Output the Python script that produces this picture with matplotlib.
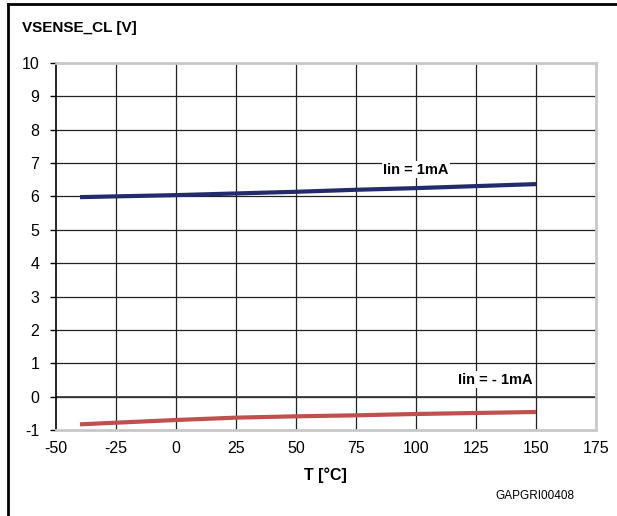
import numpy as np
import matplotlib.pyplot as plt
from matplotlib.lines import Line2D

plt.rcParams['font.family'] = ['Liberation Sans', 'DejaVu Sans']
plt.rcParams['axes.unicode_minus'] = False

# datos
temp = [-40, 0, 25, 50, 75, 100, 125, 150]
v_pos = [5.98, 6.04, 6.09, 6.14, 6.2, 6.25, 6.31, 6.37]
v_neg = [-0.83, -0.7, -0.63, -0.59, -0.56, -0.52, -0.49, -0.46]
xticks = [-50, -25, 0, 25, 50, 75, 100, 125, 150, 175]
yticks = list(range(-1, 11))

fig = plt.figure(figsize=(6.17, 5.16), dpi=100)
ax = fig.add_axes([56/617, 1-430/516, 540/617, 367/516])

ax.set_xlim(-50, 175)
ax.set_ylim(-1, 10)
ax.set_xticks(xticks)
ax.set_yticks(yticks)
ax.tick_params(axis='x', length=0, labelsize=11.5, pad=8)
ax.tick_params(axis='y', length=4, width=1, labelsize=11.5, pad=8)

# rejilla
for x in xticks[1:-1]:
    ax.axvline(x, color='#222222', lw=0.9, zorder=1)
for y in yticks[1:-1]:
    ax.axhline(y, color='#222222', lw=0.9, zorder=1)
ax.axhline(0, color='#333333', lw=1.2, zorder=1)

for s in ['top', 'right', 'bottom']:
    ax.spines[s].set_color('#c8c8c8')
    ax.spines[s].set_linewidth(2)
ax.spines['left'].set_color('black')
ax.spines['left'].set_linewidth(1.2)

ax.plot(temp, v_pos, color='#232a6e', lw=3, solid_capstyle='butt', zorder=3)
ax.plot(temp, v_neg, color='#c0504d', lw=3, solid_capstyle='butt', zorder=3)

ax.text(100, 6.8, 'Iin = 1mA', fontsize=10.5, fontweight='bold', ha='center', va='center',
        bbox=dict(facecolor='white', edgecolor='none', pad=1), zorder=4)
ax.text(133, 0.5, 'Iin = - 1mA', fontsize=10.5, fontweight='bold', ha='center', va='center',
        bbox=dict(facecolor='white', edgecolor='none', pad=1), zorder=4)

fig.text(22/617, 1-28/516, 'VSENSE_CL [V]', fontsize=11, fontweight='bold', ha='left', va='center')
fig.text(325/617, 1-475/516, 'T [°C]', fontsize=11.5, fontweight='bold', ha='center', va='center')
fig.text(535/617, 1-496/516, 'GAPGRI00408', fontsize=8.5, ha='center', va='center')

# marco exterior
fig.add_artist(Line2D([8/617, 8/617], [0, 1-4/516], color='black', lw=2, transform=fig.transFigure))
fig.add_artist(Line2D([8/617, 1], [1-4/516, 1-4/516], color='black', lw=2, transform=fig.transFigure))

fig.savefig('out.png', dpi=100)
